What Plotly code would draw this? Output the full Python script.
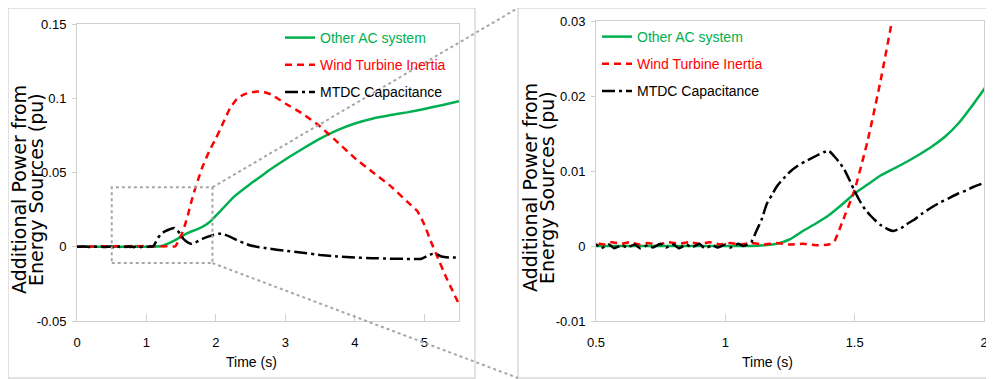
import plotly.graph_objects as go

# ---------------- data ----------------
t_green = [0, 1.1, 1.15, 1.2, 1.25, 1.3, 1.35, 1.4, 1.45, 1.5, 1.55, 1.6, 1.65, 1.7, 1.75, 1.8, 1.85, 1.9, 1.95, 2.0,
           2.1, 2.25, 2.5, 2.63, 2.75, 3.0, 3.25, 3.5, 3.75, 4.0, 4.25, 4.5, 4.75, 5.0, 5.25, 5.5]
p_green = [0, 0, 0.0001, 0.0003, 0.0009, 0.002, 0.003, 0.0041, 0.0055, 0.007, 0.0082, 0.0094, 0.0103, 0.0112, 0.0122,
           0.0133, 0.0146, 0.0163, 0.0185, 0.0209, 0.0258, 0.0333, 0.0425, 0.0468, 0.051, 0.0588, 0.066, 0.0728, 0.0785,
           0.083, 0.0862, 0.0885, 0.0905, 0.0928, 0.0953, 0.098]

t_red = [0, 0.25, 0.5, 0.53, 0.56, 0.6, 0.63, 0.67, 0.7, 0.74, 0.78, 0.82, 0.86, 0.9, 0.94, 0.98, 1.02, 1.06, 1.1, 1.15,
         1.2, 1.25, 1.3, 1.35, 1.4, 1.42, 1.45, 1.5, 1.55, 1.6, 1.65, 1.7, 1.75, 1.8, 1.9, 2.0, 2.1, 2.2,
         2.3, 2.4, 2.5, 2.6, 2.7, 2.8, 2.9, 3.0, 3.25, 3.5, 3.75, 4.0, 4.25, 4.5, 4.75, 4.9, 5.0, 5.1, 5.2, 5.3, 5.4, 5.5]
p_red = [0, 0.0002, 0.0004, 0.0002, 0.0005, 0.0003, 0.0005, 0.0002, 0.0004, 0.0002, 0.0005, 0.0003, 0.0005, 0.0003,
         0.0005, 0.0002, 0.0004, 0.0002, 0.0004, 0.0002, 0.0004, 0.0002, 0.0003, 0.0001, 0.0002, 0.0005, 0.003, 0.0075,
         0.014, 0.022, 0.031, 0.039, 0.046, 0.053, 0.064, 0.073, 0.083, 0.093, 0.0995, 0.1025, 0.104, 0.1045, 0.104,
         0.1025, 0.0995, 0.0965, 0.0895, 0.081, 0.0705, 0.0597, 0.0505, 0.0415, 0.0305, 0.024, 0.015, 0.003, -0.008,
         -0.019, -0.029, -0.0387]

t_black = [0, 0.1, 0.2, 0.3, 0.4, 0.5, 0.52, 0.55, 0.57, 0.6, 0.62, 0.65, 0.67, 0.7, 0.72, 0.75, 0.77, 0.8, 0.82, 0.85,
           0.87, 0.9, 0.92, 0.95, 0.97, 1.0, 1.02, 1.05, 1.07, 1.1, 1.12, 1.14, 1.16, 1.18, 1.2, 1.225, 1.25, 1.28, 1.31,
           1.35, 1.38, 1.4, 1.42, 1.44, 1.46, 1.48, 1.5, 1.52, 1.54, 1.56, 1.58, 1.6, 1.63, 1.65, 1.68, 1.7, 1.73, 1.76,
           1.8, 1.83, 1.86, 1.9, 1.93, 1.96, 2.0, 2.05, 2.1, 2.2, 2.3, 2.4, 2.5, 2.75, 3.0, 3.25, 3.5, 3.75, 4.0, 4.25,
           4.5, 4.75, 4.95, 5.05, 5.12, 5.18, 5.25, 5.35, 5.5]
p_black = [0, 0.0002, -0.0002, 0.0001, -0.0002, 0.0002, -0.0003, 0.0002, -0.0003, 0.0001, -0.0002, 0.0002, -0.0003,
           0.0001, -0.0002, 0.0003, -0.0002, 0.0002, -0.0003, 0.0002, -0.0002, 0.0003, -0.0003, 0.0001, -0.0002, 0.0002,
           -0.0002, 0.0003, 0.0, 0.0005, 0.002, 0.0035, 0.0056, 0.0068, 0.008, 0.009, 0.0099, 0.0107, 0.0113, 0.012,
           0.0125, 0.0127, 0.012, 0.0112, 0.0102, 0.0088, 0.0073, 0.006, 0.0049, 0.0041, 0.0034, 0.0028, 0.0022, 0.002,
           0.0024, 0.0029, 0.0035, 0.0043, 0.0052, 0.0058, 0.0063, 0.007, 0.0074, 0.0079, 0.0084, 0.0088, 0.0086,
           0.0068, 0.0045, 0.0025, 0.0008, -0.0012, -0.0027, -0.004, -0.0055, -0.0066, -0.0073, -0.0077, -0.008,
           -0.0082, -0.0082, -0.006, -0.0048, -0.005, -0.0066, -0.0072, -0.0072]

names = ["Other AC system", "Wind Turbine Inertia", "MTDC Capacitance"]
colors = ["#00B050", "#FF0000", "#000000"]
dashes = ["solid", "7px,5px", "13px,4px,3px,4px"]

left_xticks = [0, 1, 2, 3, 4, 5]
left_xtext = ["0", "1", "2", "3", "4", "5"]
left_yticks = [-0.05, 0, 0.05, 0.1, 0.15]
left_ytext = ["-0.05", "0", "0.05", "0.1", "0.15"]
right_xticks = [0.5, 1, 1.5, 2]
right_xtext = ["0.5", "1", "1.5", "2"]
right_yticks = [-0.01, 0, 0.01, 0.02, 0.03]
right_ytext = ["-0.01", "0", "0.01", "0.02", "0.03"]

zoom_box_x = [0.5, 1.95]
zoom_box_y = [-0.011, 0.04]

# ---------------- layout geometry (screen pixels of the 994x379 window) ----------------
SCR_W, SCR_H = 994, 379
OFF = 8  # page body margin
W, H = SCR_W - OFF, SCR_H - OFF
L_X = [77, 459]; L_Y = [24, 321]
R_X = [596, 984]; R_Y = [21, 321]
L_RANGE_X = [0, 5.5]; L_RANGE_Y = [-0.05, 0.15]
R_RANGE_X = [0.5, 2]; R_RANGE_Y = [-0.01, 0.03]

def px(x): return (x - OFF) / W
def py(y): return 1 - (y - OFF) / H

FONT = "Liberation Sans, Arial, sans-serif"
AXC = "#D0D0D0"

fig = go.Figure()
series = [(t_green, p_green), (t_red, p_red), (t_black, p_black)]
for i, (t, p) in enumerate(series):
    for side, xa, ya, lg in [("L", "x", "y", "legend"), ("R", "x2", "y2", "legend2")]:
        fig.add_trace(go.Scatter(
            x=t, y=p, xaxis=xa, yaxis=ya, mode="lines",
            name=f"<span style='color:{colors[i]}'>{names[i]}</span>",
            line=dict(color=colors[i], width=2.5, dash=dashes[i], shape="spline", smoothing=0.4),
            legend=lg, legendgroup=f"{side}{i}", showlegend=True))

axis_common = dict(showgrid=False, zeroline=False, showline=True, linecolor=AXC, linewidth=1, mirror=True,
                   tickfont=dict(family=FONT, size=13, color="#000000"), tickcolor=AXC, automargin=False)

fig.update_layout(
    width=W, height=H, margin=dict(l=0, r=0, t=0, b=0, autoexpand=False),
    paper_bgcolor="white", plot_bgcolor="white",
    xaxis=dict(domain=[px(L_X[0]), px(L_X[1])], range=L_RANGE_X, tickvals=left_xticks, ticktext=left_xtext,
               ticks="inside", ticklen=7, anchor="y", ticklabelstandoff=9, **axis_common),
    yaxis=dict(domain=[py(L_Y[1]), py(L_Y[0])], range=L_RANGE_Y, tickvals=left_yticks, ticktext=left_ytext,
               ticks="outside", ticklen=4, anchor="x", ticklabelstandoff=3, **axis_common),
    xaxis2=dict(domain=[px(R_X[0]), px(R_X[1])], range=R_RANGE_X, tickvals=right_xticks, ticktext=right_xtext,
                ticks="inside", ticklen=7, anchor="y2", ticklabelstandoff=9, **axis_common),
    yaxis2=dict(domain=[py(R_Y[1]), py(R_Y[0])], range=R_RANGE_Y, tickvals=right_yticks, ticktext=right_ytext,
                ticks="outside", ticklen=4, anchor="x2", ticklabelstandoff=3, **axis_common),
    legend=dict(x=px(280), y=py(22), xanchor="left", yanchor="top", bgcolor="rgba(0,0,0,0)",
                font=dict(family=FONT, size=14), tracegroupgap=6, itemwidth=30),
    legend2=dict(x=px(597), y=py(21), xanchor="left", yanchor="top", bgcolor="rgba(0,0,0,0)",
                 font=dict(family=FONT, size=14), tracegroupgap=6, itemwidth=30),
    showlegend=True,
)

# panel frames
shapes = [
    dict(type="rect", xref="paper", yref="paper", x0=px(8), x1=px(475), y0=py(378), y1=py(8),
         line=dict(color="#D9D9D9", width=1.5), layer="below"),
    dict(type="rect", xref="paper", yref="paper", x0=px(518), x1=px(1005), y0=py(378), y1=py(8),
         line=dict(color="#D9D9D9", width=1.5), layer="below"),
    dict(type="rect", xref="x", yref="y", x0=zoom_box_x[0], x1=zoom_box_x[1], y0=zoom_box_y[0], y1=zoom_box_y[1],
         line=dict(color="#A6A6A6", width=2, dash="dot")),
]

def to_paper_left(x, y):
    fx = (x - L_RANGE_X[0]) / (L_RANGE_X[1] - L_RANGE_X[0])
    fy = (y - L_RANGE_Y[0]) / (L_RANGE_Y[1] - L_RANGE_Y[0])
    return px(L_X[0] + fx * (L_X[1] - L_X[0])), py(L_Y[1] - fy * (L_Y[1] - L_Y[0]))

ax, ay = to_paper_left(zoom_box_x[1], zoom_box_y[1])
bx, by = to_paper_left(zoom_box_x[1], zoom_box_y[0])
shapes.append(dict(type="line", xref="paper", yref="paper", x0=ax, y0=ay, x1=px(518), y1=py(8),
                   line=dict(color="#A6A6A6", width=2, dash="dot")))
shapes.append(dict(type="line", xref="paper", yref="paper", x0=bx, y0=by, x1=px(518), y1=py(378),
                   line=dict(color="#A6A6A6", width=2, dash="dot")))
fig.update_layout(shapes=shapes)

TITLE_FONT = dict(family="DejaVu Sans, Liberation Sans, sans-serif", size=19, color="#000000")
annotations = []
for x1, x2, yc in [(19, 36, 190), (530, 547, 188)]:
    annotations.append(dict(text="Additional Power from", xref="paper", yref="paper", x=px(x1), y=py(yc),
                            showarrow=False, textangle=-90, font=TITLE_FONT, xanchor="center", yanchor="middle"))
    annotations.append(dict(text="Energy Sources (pu)", xref="paper", yref="paper", x=px(x2), y=py(yc),
                            showarrow=False, textangle=-90, font=TITLE_FONT, xanchor="center", yanchor="middle"))
for xc in [251, 767]:
    annotations.append(dict(text="Time (s)", xref="paper", yref="paper", x=px(xc), y=py(362), showarrow=False,
                            font=dict(family=FONT, size=14, color="#000000"), xanchor="center", yanchor="middle"))
fig.update_layout(annotations=annotations)

fig.write_html("out.html")
